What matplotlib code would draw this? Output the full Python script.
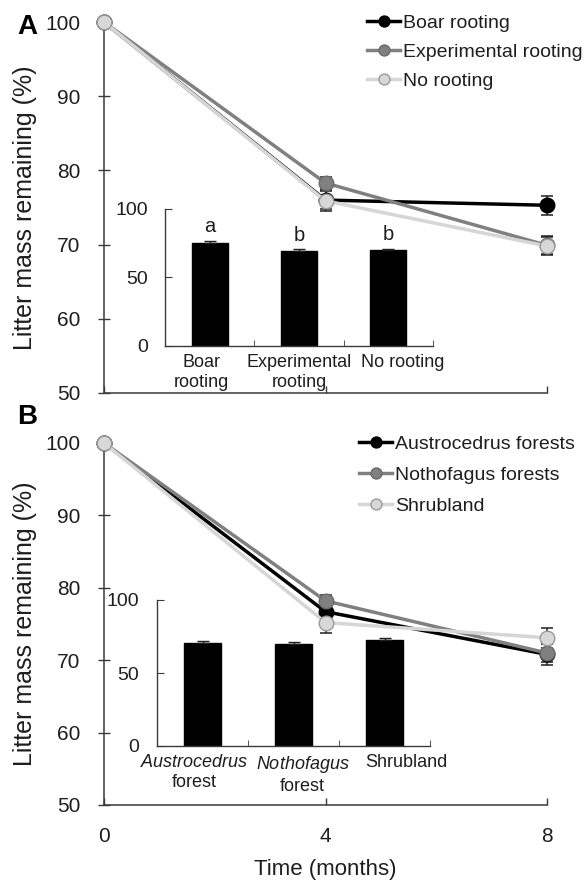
import matplotlib
matplotlib.use("Agg")
import matplotlib.pyplot as plt
import numpy as np

plt.rcParams['font.family'] = ['Liberation Sans', 'DejaVu Sans']
plt.rcParams['mathtext.fontset'] = 'custom'
plt.rcParams['mathtext.it'] = 'Liberation Sans:italic'
plt.rcParams['mathtext.rm'] = 'Liberation Sans'

# ---------------- data ----------------
time_months = [0, 4, 8]
x_ticklabels = ["0", "4", "8"]

# Panel A
boar = [100, 76.0, 75.3]
boar_err = [0, 1.2, 1.3]
experimental = [100, 78.3, 69.9]
experimental_err = [0, 0.8, 1.2]
no_rooting = [100, 75.9, 69.8]
no_rooting_err = [0, 1.4, 1.2]
labels_a = ["Boar rooting", "Experimental rooting", "No rooting"]

inset_a_cats = ["Boar\nrooting", "Experimental\nrooting", "No rooting"]
inset_a_vals = [75.2, 69.4, 70.1]
inset_a_err = [1.5, 1.2, 0.8]
inset_a_letters = ["a", "b", "b"]

# Panel B
austro = [100, 76.7, 70.8]
austro_err = [0, 0.8, 1.5]
notho = [100, 78.2, 71.0]
notho_err = [0, 0.8, 1.2]
shrub = [100, 75.2, 73.1]
shrub_err = [0, 1.5, 1.4]
labels_b = ["Austrocedrus forests", "Nothofagus forests", "Shrubland"]

inset_b_cats = ["$\\it{Austrocedrus}$\nforest", "$\\it{Nothofagus}$\nforest", "Shrubland"]
inset_b_vals = [70.3, 70.2, 72.6]
inset_b_err = [1.8, 1.0, 1.2]

# ---------------- styles ----------------
W, H = 585, 881
fig = plt.figure(figsize=(W / 100, H / 100), dpi=100)

def fr(l, t, r, b):
    return [l / W, 1 - b / H, (r - l) / W, (b - t) / H]

spine_col = '#3a3a3a'
txt_col = '#1e1e1e'
styles = [
    dict(color='black', mfc='black', mec='black'),
    dict(color='#808080', mfc='#808080', mec='#6a6a6a'),
    dict(color='#d6d6d6', mfc='#d8d8d8', mec='#9a9a9a'),
]

def main_panel(rect, series, errs, labels, leg_anchor, leg_spacing, show_xlabels):
    ax = fig.add_axes(rect)
    for s, e, lab, st in zip(series, errs, labels, styles):
        ax.errorbar(time_months, s, yerr=e, fmt='none', ecolor='#202020',
                    elinewidth=1.1, capsize=4.5, capthick=1.1, zorder=2, clip_on=False)
        ax.plot(time_months, s, marker='o', ms=10.5, lw=2.5, mew=1.0,
                label=lab, clip_on=False, zorder=3, **st)
    ax.set_xlim(0, 8)
    ax.set_ylim(50, 100)
    ax.set_yticks([50, 60, 70, 80, 90, 100])
    ax.set_xticks([0, 4, 8])
    for sp in ['top', 'right']:
        ax.spines[sp].set_visible(False)
    for sp in ['left', 'bottom']:
        ax.spines[sp].set_color(spine_col)
        ax.spines[sp].set_linewidth(1.1)
    ax.tick_params(axis='y', direction='inout', length=8, width=1.0, color=spine_col,
                   labelsize=15, pad=13, labelcolor=txt_col)
    ax.tick_params(axis='x', direction='in', length=5, width=1.0, color=spine_col,
                   labelsize=15, pad=16, labelcolor=txt_col)
    if show_xlabels:
        ax.set_xticklabels(x_ticklabels)
    else:
        ax.set_xticklabels([])
    ax.set_ylabel("Litter mass remaining (%)", fontsize=18, color=txt_col)
    ax.yaxis.set_label_coords(-0.152, 0.5)
    leg = ax.legend(loc='upper left', bbox_to_anchor=leg_anchor,
                    bbox_transform=fig.transFigure, frameon=False,
                    fontsize=14, handlelength=1.7, handletextpad=0.15,
                    labelspacing=leg_spacing, borderpad=0, borderaxespad=0, markerscale=0.75)
    for t in leg.get_texts():
        t.set_color(txt_col)
    return ax

def inset(rect, cats, vals, errs, label_shift, letters=None, ypad=12):
    ax = fig.add_axes(rect)
    x = np.arange(len(cats))
    ax.bar(x, vals, width=0.4, color='black', edgecolor='black', zorder=2)
    ax.errorbar(x, vals, yerr=[np.zeros(len(errs)), errs], fmt='none',
                ecolor='#202020', elinewidth=1.0, capsize=4, capthick=1.0, zorder=3)
    if letters is not None:
        for xi, v, e, l in zip(x, vals, errs, letters):
            ax.text(xi, v + e + 3.0, l, ha='center', va='bottom', fontsize=14.5, color=txt_col)
    ax.set_xlim(-0.5, len(cats) - 0.5)
    ax.set_ylim(0, 100)
    ax.set_yticks([0, 50, 100])
    ax.set_xticks(x + np.array(label_shift))
    ax.set_xticklabels(cats, fontsize=13, color=txt_col, linespacing=1.2)
    ax.set_xticks(np.arange(len(cats)) + 0.5, minor=True)
    ax.tick_params(axis='x', which='major', length=0, pad=6)
    ax.tick_params(axis='x', which='minor', direction='in', length=4, color=spine_col)
    ax.tick_params(axis='y', direction='in', length=5, color=spine_col,
                   labelsize=14, labelcolor=txt_col, pad=ypad)
    for sp in ['top', 'right']:
        ax.spines[sp].set_visible(False)
    for sp in ['left', 'bottom']:
        ax.spines[sp].set_color(spine_col)
        ax.spines[sp].set_linewidth(1.0)
    ax.patch.set_alpha(0)
    return ax

axA = main_panel(fr(104, 22, 547, 393), [boar, experimental, no_rooting],
                 [boar_err, experimental_err, no_rooting_err], labels_a,
                 (367 / W, 1 - 14.5 / H), 0.58, False)
axB = main_panel(fr(104, 443, 547, 805), [austro, notho, shrub],
                 [austro_err, notho_err, shrub_err], labels_b,
                 (359 / W, 1 - 435 / H), 0.70, True)
axB.set_xlabel("Time (months)", fontsize=16, color=txt_col, labelpad=9)

inset(fr(165, 208.6, 433, 346), inset_a_cats, inset_a_vals, inset_a_err,
      [-0.09, 0.0, 0.16], inset_a_letters, ypad=12)
inset(fr(157, 600, 430, 746), inset_b_cats, inset_b_vals, inset_b_err,
      [-0.09, 0.1, 0.24], ypad=13)

fig.text(27 / W, 1 - 27 / H, "A", fontsize=20, fontweight='bold', ha='center', va='center')
fig.text(27 / W, 1 - 417 / H, "B", fontsize=20, fontweight='bold', ha='center', va='center')

fig.savefig("out.png", dpi=100)
